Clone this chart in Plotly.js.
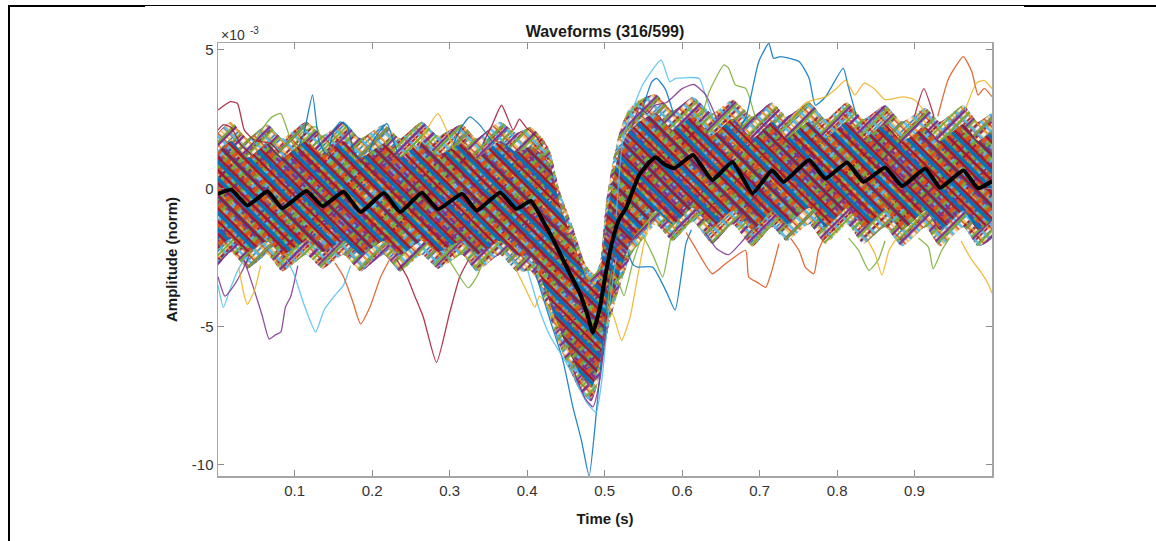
<!DOCTYPE html>
<html><head><meta charset="utf-8">
<script src="https://cdn.plot.ly/plotly-3.0.1.min.js"></script>
<style>
body{margin:0;background:#fff;overflow:hidden;}
#chart{position:absolute;left:0;top:0;width:1156px;height:541px;}
.rule{position:absolute;background:#000;}
</style>
</head><body>
<div id="chart"></div>
<div class="rule" style="left:8px;top:5px;width:2px;height:536px"></div>
<div class="rule" style="left:8px;top:5px;width:137px;height:2px"></div>
<div class="rule" style="left:145px;top:5px;width:879px;height:1px"></div>
<div class="rule" style="left:1024px;top:5px;width:132px;height:2px"></div>
<script>
// ---- Mean waveform (x1e-3) ----
const meanT = [0.001,0.018,0.039,0.065,0.084,0.115,0.136,0.163,0.185,0.215,0.236,0.264,0.285,0.316,0.335,0.365,0.386,0.405,0.42,0.434,0.451,0.468,0.477,0.485,0.494,0.502,0.511,0.519,0.528,0.536,0.545,0.558,0.566,0.578,0.590,0.614,0.639,0.665,0.691,0.716,0.731,0.764,0.785,0.813,0.834,0.862,0.884,0.914,0.933,0.963,0.982,1.0];
const meanV = [-0.2,-0.05,-0.62,-0.11,-0.72,-0.1,-0.65,-0.13,-0.86,-0.17,-0.86,-0.16,-0.76,-0.2,-0.81,-0.15,-0.75,-0.46,-1.16,-1.88,-2.85,-3.8,-4.5,-5.22,-4.3,-3.0,-1.8,-1.1,-0.7,-0.1,0.5,0.95,1.12,0.85,0.72,1.2,0.3,0.95,-0.19,0.65,0.23,1.02,0.35,0.93,0.23,0.75,0.08,0.71,0.02,0.64,0.0,0.25];

// ---- Envelopes of the bundle of waveforms: sparse fringe and dense core ----
const upperT = [0.001,0.018,0.039,0.065,0.084,0.115,0.136,0.163,0.185,0.215,0.236,0.264,0.285,0.316,0.335,0.365,0.386,0.405,0.42,0.43,0.442,0.459,0.476,0.487,0.494,0.502,0.511,0.519,0.53,0.545,0.566,0.588,0.614,0.639,0.665,0.691,0.716,0.735,0.764,0.785,0.813,0.834,0.862,0.884,0.914,0.933,0.963,0.982,1.0];
const fringeUpperV = [2.0,2.4,1.8,2.3,1.8,2.4,1.9,2.4,1.8,2.3,1.8,2.4,1.9,2.3,1.8,2.4,2.0,2.2,1.8,1.3,-0.1,-1.4,-2.8,-3.1,-2.7,-0.5,1.0,2.0,2.8,3.2,3.4,2.8,3.3,2.7,3.2,2.6,3.1,2.6,3.1,2.5,3.1,2.5,3.0,2.4,2.9,2.4,3.0,2.4,2.7];
const coreUpperV = [1.3,1.7,1.1,1.6,1.1,1.7,1.2,1.7,1.1,1.6,1.1,1.7,1.2,1.6,1.1,1.7,1.3,1.5,1.2,0.8,-0.6,-1.9,-3.2,-3.5,-3.1,-1.2,0.3,1.3,2.0,2.4,2.7,2.1,2.6,1.9,2.5,1.8,2.4,1.8,2.4,1.8,2.4,1.8,2.3,1.7,2.2,1.7,2.3,1.7,2.0];
const lowerT = [0.001,0.018,0.039,0.065,0.084,0.115,0.136,0.163,0.185,0.215,0.236,0.264,0.285,0.316,0.335,0.365,0.386,0.405,0.416,0.442,0.468,0.483,0.494,0.506,0.519,0.536,0.554,0.566,0.588,0.614,0.639,0.665,0.691,0.716,0.735,0.764,0.785,0.813,0.834,0.862,0.884,0.914,0.933,0.963,0.982,1.0];
const fringeLowerV = [-2.8,-2.3,-2.9,-2.4,-3.0,-2.4,-2.9,-2.4,-3.0,-2.4,-3.0,-2.4,-2.9,-2.4,-3.0,-2.4,-3.0,-3.0,-3.5,-5.7,-7.3,-7.7,-6.7,-4.9,-3.6,-2.3,-1.7,-1.3,-1.9,-1.2,-2.0,-1.3,-2.1,-1.4,-1.9,-1.3,-2.0,-1.3,-2.0,-1.4,-2.1,-1.4,-2.1,-1.4,-2.1,-1.8];
const coreLowerV = [-2.2,-1.8,-2.3,-1.9,-2.4,-1.9,-2.3,-1.9,-2.4,-1.9,-2.4,-1.9,-2.3,-1.9,-2.4,-1.9,-2.4,-2.5,-3.1,-5.1,-6.7,-7.2,-6.2,-4.4,-3.1,-1.8,-1.2,-0.8,-1.3,-0.7,-1.4,-0.8,-1.5,-0.8,-1.3,-0.7,-1.4,-0.7,-1.4,-0.8,-1.5,-0.8,-1.5,-0.8,-1.5,-1.1];

// ---- Individual waveforms that stand out of the bundle ----
const lightBlueA_T = [0.001,0.008,0.016,0.026,0.036], lightBlueA_V = [-3.5,-4.3,-3.7,-3.0,-2.5];
const purpleA_T = [0.001,0.01,0.022,0.032,0.042], purpleA_V = [-3.2,-3.9,-3.5,-3.0,-2.4];
const purpleB_T = [0.035,0.048,0.058,0.067,0.075,0.082,0.088,0.095,0.104], purpleB_V = [-2.6,-3.7,-4.6,-5.45,-5.3,-5.2,-4.3,-3.9,-2.8];
const yellowA_T = [0.028,0.035,0.039,0.048,0.056], yellowA_V = [-2.9,-3.9,-4.2,-3.7,-2.8];
const lightBlueB_T = [0.09,0.099,0.112,0.127,0.138,0.151,0.163,0.172], lightBlueB_V = [-2.6,-3.1,-4.2,-5.2,-4.4,-3.9,-3.5,-2.8];
const orangeA_T = [0.152,0.163,0.175,0.185,0.197,0.211,0.222], orangeA_V = [-2.7,-3.2,-4.1,-4.9,-4.3,-3.2,-2.6];
const redA_T = [0.232,0.245,0.255,0.266,0.283,0.3,0.313,0.324], redA_V = [-2.6,-3.2,-3.9,-4.66,-6.3,-4.5,-3.2,-2.6];
const greenA_T = [0.295,0.305,0.324,0.335,0.345], greenA_V = [-2.4,-2.85,-3.6,-3.2,-2.5];
const yellowB_T = [0.385,0.399,0.41,0.416,0.425,0.44], yellowB_V = [-2.9,-3.7,-4.3,-3.9,-4.2,-5.0];
const blueSpike_T = [0.41,0.43,0.446,0.459,0.47,0.48,0.489,0.498,0.508,0.52], blueSpike_V = [-3.0,-4.8,-6.2,-7.9,-9.1,-10.4,-8.2,-5.5,-3.0,-1.0];
const lightBlueSpike_T = [0.40,0.416,0.43,0.446,0.462,0.476,0.489,0.497,0.505,0.515], lightBlueSpike_V = [-2.9,-4.4,-5.37,-6.1,-6.9,-7.7,-8.1,-6.8,-4.5,-2.5];
const purpleSpike_T = [0.46,0.475,0.485,0.494,0.502], purpleSpike_V = [-6.6,-7.6,-7.9,-6.9,-5.0];
const yellowC_T = [0.503,0.512,0.522,0.533,0.541,0.55,0.558], yellowC_V = [-4.2,-4.65,-5.5,-4.65,-3.45,-2.1,-1.2];
const greenB_T = [0.503,0.51,0.518,0.525,0.536,0.549,0.562,0.575,0.585,0.595], greenB_V = [-4.5,-2.97,-3.4,-3.88,-2.73,-1.76,-2.4,-3.21,-1.88,-1.2];
const blueB_T = [0.53,0.536,0.542,0.562,0.579,0.591,0.605,0.612], blueB_V = [-2.3,-2.73,-2.85,-2.85,-3.7,-4.4,-2.0,-1.5];
const redB_T = [0.605,0.614,0.639,0.656,0.682,0.686,0.697,0.708,0.716,0.725], redB_V = [-1.6,-2.0,-3.09,-2.73,-2.25,-3.21,-3.4,-3.58,-2.97,-2.0];
const purpleC_T = [0.63,0.645,0.66,0.675,0.69], purpleC_V = [-1.6,-2.2,-2.4,-2.0,-1.5];
const orangeC_T = [0.74,0.751,0.759,0.77,0.776,0.785], orangeC_V = [-1.8,-2.25,-2.85,-3.09,-2.25,-1.7];
const greenC_T = [0.815,0.828,0.841,0.853,0.862], greenC_V = [-1.8,-2.25,-2.97,-2.6,-1.9];
const yellowD_T = [0.84,0.849,0.858,0.867,0.877], yellowD_V = [-1.9,-2.37,-3.15,-2.25,-1.8];
const greenD_T = [0.905,0.918,0.924,0.935,0.945], greenD_V = [-1.8,-2.13,-2.91,-2.25,-1.8];
const yellowE_T = [0.96,0.974,0.985,0.995,1.0], yellowE_V = [-1.9,-2.6,-3.0,-3.45,-3.8];

const redTop_T = [0.001,0.017,0.026,0.035,0.048,0.069,0.08], redTop_V = [2.83,3.13,3.07,2.1,1.74,1.62,1.3];
const redTop2_T = [0.001,0.008,0.018,0.03,0.045], redTop2_V = [2.1,2.3,2.2,1.6,1.2];
const greenTop_T = [0.045,0.052,0.062,0.071,0.082,0.095,0.105], greenTop_V = [1.5,1.86,2.3,2.58,2.7,1.74,1.3];
const greenTop2_T = [0.1,0.108,0.128,0.137,0.145], greenTop2_V = [1.5,1.98,2.22,1.5,1.2];
const blueTop_T = [0.105,0.112,0.123,0.131,0.14], blueTop_V = [1.5,2.0,3.37,1.74,1.2];
const blueTop2_T = [0.145,0.151,0.159,0.168,0.176,0.185], blueTop2_V = [1.5,2.1,2.4,2.22,1.38,1.0];
const blueTop3_T = [0.196,0.202,0.219,0.227,0.235], blueTop3_V = [1.3,1.74,2.34,1.74,1.1];
const yellowTop_T = [0.26,0.27,0.285,0.296,0.305], yellowTop_V = [1.5,2.1,2.7,2.1,1.4];
const blueTop4_T = [0.305,0.313,0.326,0.339,0.356], blueTop4_V = [1.6,2.1,2.58,2.28,1.63];
const redTop3_T = [0.343,0.355,0.367,0.382,0.39,0.398,0.412,0.42], redTop3_V = [1.62,2.3,3.0,2.1,2.5,2.22,1.86,1.5];
const lightBlueTop_T = [0.515,0.524,0.549,0.573,0.584,0.592,0.622,0.63,0.64], lightBlueTop_V = [-1.0,1.8,3.73,4.64,3.85,3.97,3.97,3.37,2.5];
const blueTop5_T = [0.545,0.561,0.567,0.578,0.59], blueTop5_V = [2.5,3.85,3.97,3.6,2.6];
const purpleTop_T = [0.535,0.545,0.555,0.565,0.58,0.6,0.615,0.63,0.645], purpleTop_V = [2.2,2.9,2.7,3.0,3.1,3.6,3.75,3.4,2.5];
const greenTop3_T = [0.625,0.635,0.654,0.66,0.669,0.682,0.695], greenTop3_V = [2.5,3.49,4.46,4.34,3.73,3.61,2.5];
const blueBig_T = [0.67,0.682,0.699,0.712,0.718,0.727,0.751,0.764,0.772,0.785,0.808,0.814,0.825], blueBig_V = [2.0,2.53,4.58,5.24,4.7,4.76,4.58,3.97,3.0,3.3,4.34,3.73,2.6];
const yellowTop3_T = [0.74,0.76,0.785,0.797,0.811,0.823,0.835,0.848,0.862,0.885,0.9,0.915], yellowTop3_V = [2.5,3.1,3.3,3.55,3.9,3.37,3.8,3.6,3.2,3.3,3.2,2.7];
const redTop4_T = [0.9,0.912,0.925], redTop4_V = [2.6,3.6,2.6];
const orangeTop_T = [0.93,0.944,0.963,0.974,0.982,0.99,1.0], orangeTop_V = [2.6,3.97,4.76,4.21,3.37,3.61,3.31];
const yellowTop4_T = [0.965,0.98,0.99,1.0], yellowTop4_V = [2.8,3.8,3.9,3.6];

const C = {blue:'#0072BD', orange:'#D95319', yellow:'#EDB120', purple:'#7E2F8E', green:'#77AC30', lightBlue:'#4DBEEE', red:'#A2142F'};

function band(upV, loV){
  return {x: upperT.concat(lowerT.slice().reverse()), y: upV.concat(loV.slice().reverse())};
}
const fringe = band(fringeUpperV, fringeLowerV);
const core = band(coreUpperV, coreLowerV);

const traces = [];
function fillLayer(b, color, pat){
  const t = {x:b.x, y:b.y, type:'scatter', mode:'lines', fill:'toself', line:{width:0, color:'rgba(0,0,0,0)', shape:'spline', smoothing:0.5}, fillcolor:color, hoverinfo:'skip', showlegend:false};
  if (pat) t.fillpattern = {shape:pat[1], fgcolor:pat[0], bgcolor:'rgba(0,0,0,0)', size:pat[2], solidity:pat[3]};
  traces.push(t);
}
// sparse fringe
fillLayer(fringe, 'rgba(215,150,130,0.18)');
[[C.blue,'/',7,0.2],[C.orange,'\\',8,0.2],[C.red,'/',9,0.2],[C.yellow,'\\',6,0.2],[C.lightBlue,'\\',11,0.22],[C.purple,'/',12,0.2],[C.green,'/',10,0.2]]
  .forEach(p => fillLayer(fringe, 'rgba(0,0,0,0)', p));
// dense core
fillLayer(core, 'rgba(200,115,95,0.35)');
[[C.blue,'/',6,0.32],[C.orange,'\\',7,0.32],[C.red,'/',8,0.3],[C.yellow,'\\',5,0.28],[C.lightBlue,'/',9,0.3],[C.purple,'\\',10,0.28],[C.green,'/',11,0.28],[C.orange,'/',13,0.3],[C.blue,'\\',12,0.3],[C.red,'\\',9,0.28]]
  .forEach(p => fillLayer(core, 'rgba(0,0,0,0)', p));

const outliers = [
  [lightBlueA_T,lightBlueA_V,C.lightBlue],[purpleA_T,purpleA_V,C.purple],[purpleB_T,purpleB_V,C.purple],[yellowA_T,yellowA_V,C.yellow],
  [lightBlueB_T,lightBlueB_V,C.lightBlue],[orangeA_T,orangeA_V,C.orange],[redA_T,redA_V,C.red],[greenA_T,greenA_V,C.green],
  [yellowB_T,yellowB_V,C.yellow],[blueSpike_T,blueSpike_V,C.blue],[lightBlueSpike_T,lightBlueSpike_V,C.lightBlue],[purpleSpike_T,purpleSpike_V,C.purple],
  [yellowC_T,yellowC_V,C.yellow],[greenB_T,greenB_V,C.green],[blueB_T,blueB_V,C.blue],[redB_T,redB_V,C.orange],[purpleC_T,purpleC_V,C.purple],
  [orangeC_T,orangeC_V,C.orange],[greenC_T,greenC_V,C.green],[yellowD_T,yellowD_V,C.yellow],[greenD_T,greenD_V,C.green],[yellowE_T,yellowE_V,C.yellow],
  [redTop_T,redTop_V,C.red],[redTop2_T,redTop2_V,C.red],[greenTop_T,greenTop_V,C.green],[greenTop2_T,greenTop2_V,C.green],[blueTop_T,blueTop_V,C.blue],
  [blueTop2_T,blueTop2_V,C.blue],[blueTop3_T,blueTop3_V,C.blue],[yellowTop_T,yellowTop_V,C.yellow],[blueTop4_T,blueTop4_V,C.blue],[redTop3_T,redTop3_V,C.red],
  [lightBlueTop_T,lightBlueTop_V,C.lightBlue],[blueTop5_T,blueTop5_V,C.blue],[purpleTop_T,purpleTop_V,C.purple],[greenTop3_T,greenTop3_V,C.green],
  [blueBig_T,blueBig_V,C.blue],[yellowTop3_T,yellowTop3_V,C.yellow],[redTop4_T,redTop4_V,C.red],[orangeTop_T,orangeTop_V,C.orange],[yellowTop4_T,yellowTop4_V,C.yellow]
];
outliers.forEach(o => traces.push({x:o[0], y:o[1], type:'scatter', mode:'lines', line:{color:o[2], width:1.3, shape:'spline', smoothing:0.5}, opacity:0.85, hoverinfo:'skip', showlegend:false}));

traces.push({x:meanT, y:meanV, type:'scatter', mode:'lines', line:{color:'#000', width:4, shape:'spline', smoothing:0.4}, hoverinfo:'skip', showlegend:false});

const FONT = 'Liberation Sans, Arial, sans-serif';
const axisCommon = {showline:true, mirror:'ticks', linecolor:'#a6a6a6', linewidth:1.5, ticks:'inside', ticklen:6, tickwidth:1, tickcolor:'#8c8c8c', showgrid:false, zeroline:false, tickfont:{family:FONT, size:15, color:'#333'}};
const layout = {
  width:1156, height:541, margin:{l:218, r:164, t:43, b:65},
  paper_bgcolor:'rgba(0,0,0,0)', plot_bgcolor:'#fff',
  title:{text:'<b>Waveforms (316/599)</b>', x:0.5, xref:'paper', y:1, yref:'paper', yanchor:'bottom', pad:{b:6}, font:{family:FONT, size:16, color:'#1a1a1a'}},
  xaxis:Object.assign({}, axisCommon, {range:[0.001,1.0], tickvals:[0.1,0.2,0.3,0.4,0.5,0.6,0.7,0.8,0.9], ticktext:['0.1','0.2','0.3','0.4','0.5','0.6','0.7','0.8','0.9'],
    title:{text:'<b>Time (s)</b>', standoff:16, font:{family:FONT, size:15, color:'#1a1a1a'}}}),
  yaxis:Object.assign({}, axisCommon, {range:[-10.40,5.25], tickvals:[-10,-5,0,5], ticktext:['-10','-5','0','5'],
    title:{text:'<b>Amplitude (norm)</b>', standoff:10, font:{family:FONT, size:15, color:'#1a1a1a'}}}),
  annotations:[
    {text:'×10', xref:'paper', yref:'paper', x:0, y:1, xanchor:'left', yanchor:'bottom', showarrow:false, xshift:1, yshift:-2, font:{family:FONT, size:14, color:'#333'}},
    {text:'-3', xref:'paper', yref:'paper', x:0, y:1, xanchor:'left', yanchor:'bottom', showarrow:false, xshift:30, yshift:5, font:{family:FONT, size:10, color:'#333'}}
  ]
};
Plotly.newPlot('chart', traces, layout, {displayModeBar:false, staticPlot:true});
</script>
</body></html>
